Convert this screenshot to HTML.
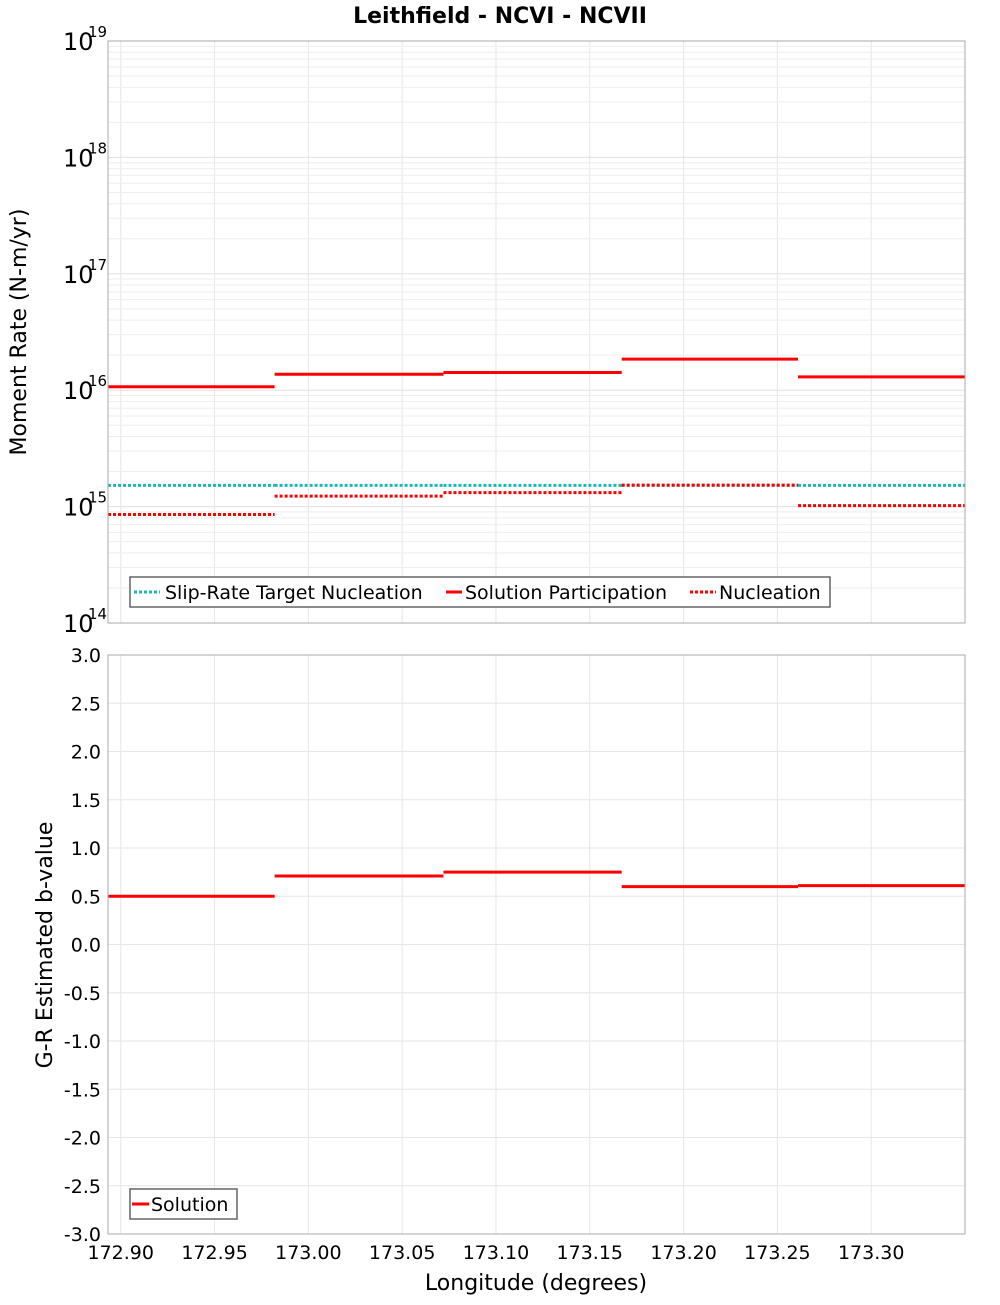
<!DOCTYPE html>
<html><head><meta charset="utf-8"><style>
body{margin:0;background:#fff}
svg text{font-family:"DejaVu Sans","Liberation Sans",sans-serif;fill:#000}
</style></head><body>
<svg id="chart" width="1000" height="1300" xmlns="http://www.w3.org/2000/svg">
<g id="grid"></g>
<g id="marks"></g>
<g id="axes"></g>
<text x="500" y="23" font-size="22" font-weight="bold" text-anchor="middle">Leithfield - NCVI - NCVII</text>
<text transform="translate(26,332) rotate(-90)" font-size="22" text-anchor="middle">Moment Rate (N-m/yr)</text>
<text transform="translate(52,945) rotate(-90)" font-size="22" text-anchor="middle">G-R Estimated b-value</text>
<text x="536" y="1290" font-size="22" text-anchor="middle">Longitude (degrees)</text>
<g>
<rect x="130" y="577" width="700" height="30" fill="#fff" stroke="#666" stroke-width="1.5"/>
<line x1="134" x2="160" y1="592" y2="592" stroke="#1bb8b8" stroke-width="3" stroke-dasharray="3,2"/>
<text x="165" y="599" font-size="19">Slip-Rate Target Nucleation</text>
<line x1="446" x2="462" y1="592" y2="592" stroke="#ff0000" stroke-width="3"/>
<text x="465" y="599" font-size="19">Solution Participation</text>
<line x1="690" x2="716" y1="592" y2="592" stroke="#ff0000" stroke-width="3" stroke-dasharray="3,2"/>
<text x="719" y="599" font-size="19">Nucleation</text>
</g>
<g>
<rect x="130" y="1189" width="107" height="30" fill="#fff" stroke="#666" stroke-width="1.5"/>
<line x1="132" x2="149" y1="1204" y2="1204" stroke="#ff0000" stroke-width="3"/>
<text x="151" y="1211" font-size="19">Solution</text>
</g>
</svg>
<script>
const binEdges=[172.8932,172.982,173.072,173.167,173.261,173.350];
const targetNucleation=[1.52e15,1.52e15,1.52e15,1.52e15,1.52e15];
const solutionParticipation=[1.07e16,1.37e16,1.42e16,1.85e16,1.30e16];
const nucleation=[0.855e15,1.23e15,1.32e15,1.53e15,1.02e15];
const bValues=[0.50,0.71,0.75,0.60,0.61];
const xTicks=[172.90,172.95,173.00,173.05,173.10,173.15,173.20,173.25,173.30];
const bTicks=[3.0,2.5,2.0,1.5,1.0,0.5,0.0,-0.5,-1.0,-1.5,-2.0,-2.5,-3.0];
const logDecades=[14,15,16,17,18,19];

const NS="http://www.w3.org/2000/svg";
const L=108,R=965,T1=41,B1=623,T2=655,B2=1234;
const xMin=172.8932,xMax=173.350;
const X=v=>L+(v-xMin)/(xMax-xMin)*(R-L);
const Y1=v=>B1-(Math.log10(v)-14)/5*(B1-T1);
const Y2=v=>T2+(3-v)/6*(B2-T2);
function el(tag,attrs,parent,txt){const e=document.createElementNS(NS,tag);for(const k in attrs)e.setAttribute(k,attrs[k]);if(txt!==undefined)e.textContent=txt;document.getElementById(parent).appendChild(e);return e;}
for(const t of xTicks){for(const [a,b] of [[T1,B1],[T2,B2]]){const g=el('line',{x1:X(t),x2:X(t),y1:a,y2:b,stroke:'#e6e6e6','stroke-width':1},'grid');

}}
for(let d=14;d<19;d++){for(let m=1;m<10;m++){const y=Y1(m*Math.pow(10,d));const g=el('line',{x1:L,x2:R,y1:y,y2:y,stroke:m==1?'#e0e0e0':'#eeeeee','stroke-width':1},'grid');

}}
for(const t of bTicks){const g=el('line',{x1:L,x2:R,y1:Y2(t),y2:Y2(t),stroke:'#e6e6e6','stroke-width':1},'grid');

}
for(const [a,b,n] of [[T1,B1,'top-plot-frame'],[T2,B2,'bottom-plot-frame']]){const f=el('rect',{x:L,y:a,width:R-L,height:b-a,fill:'none',stroke:'#a8a8a8','stroke-width':1},'axes');

}
function seg(vals,Yf,stroke,dash,name){for(let i=0;i<vals.length;i++){const y=Yf(vals[i]);const a={x1:X(binEdges[i]),x2:X(binEdges[i+1]),y1:y,y2:y,stroke:stroke,'stroke-width':3};if(dash)a['stroke-dasharray']=dash;const s=el('line',a,'marks');

}}
seg(targetNucleation,Y1,'#1bb8b8','3,2','target-nucleation');
seg(nucleation,Y1,'#ff0000','3,2','nucleation');
seg(solutionParticipation,Y1,'#ff0000',null,'solution-participation');
seg(bValues,Y2,'#ff0000',null,'b-value');
for(const t of xTicks){const e=el('text',{x:X(t),y:1259,'font-size':19,'text-anchor':'middle'},'axes',t.toFixed(2));

}
for(const t of bTicks){const e=el('text',{x:101,y:Y2(t)+7,'font-size':19,'text-anchor':'end'},'axes',t.toFixed(1));

}
for(const d of logDecades){const y=Y1(Math.pow(10,d));const e=el('text',{x:63,y:y+9,'font-size':24},'axes','10');


const s=el('text',{x:88,y:y-4,'font-size':15},'axes',String(d));

}
</script>
</body></html>
